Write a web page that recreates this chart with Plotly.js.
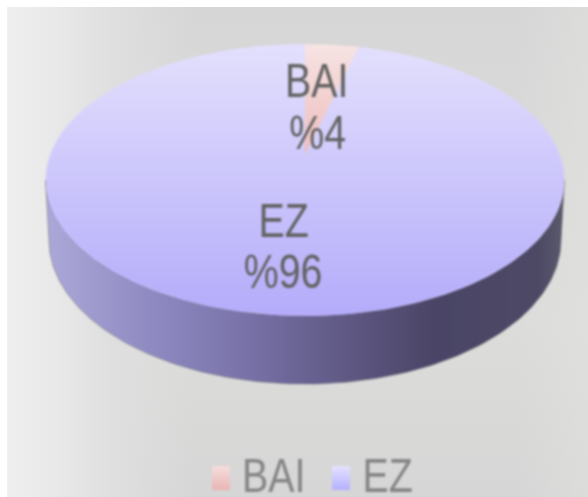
<!DOCTYPE html>
<html><head><meta charset="utf-8">
<script src="https://cdn.plot.ly/plotly-3.0.1.min.js"></script>
<style>
html,body{margin:0;padding:0;background:#fff;overflow:hidden}
#bg{position:absolute;left:7px;top:7px;width:581px;height:490px;
background:linear-gradient(90deg,#efefef 0,#e9e9e9 8%,#dfdfdf 18%,rgba(216,216,216,0) 32%,rgba(216,216,216,0) 88%,rgba(226,226,224,.5) 100%),linear-gradient(180deg,#d6d6d6 0,#d8d8d8 15%,#dcdcda 65%,#d6d6d6 100%)}
#chart{position:absolute;left:0;top:0;width:588px;height:497px;filter:blur(0.8px)}
</style></head><body><div id="bg"></div><div id="chart"></div>
<script>
const categories = ["BAI", "EZ"];
const values = [4, 96];
const labelPrefix = "%";
const topColors = [["#f7e4e4", "#eebcbc"], ["#e3e0fd", "#b4acfa"]];
const swatchColors = [["#f5dede", "#ebb4b4"], ["#e6e2ff", "#b4b0ff"]];
const wallColors = [[0, "#aca8d8"], [0.2, "#8f8bc2"], [0.4, "#7670a6"], [0.6, "#5c5680"], [0.75, "#4a4566"], [0.95, "#4d4965"], [1, "#5a5a6c"]];
const labelPos = [[316, 80, 317, 132], [283, 220, 283, 271]];
const legendPos = [[212, 273], [332, 387]];

// Perspective projection of the tilted disc, in pixel-valued axis units
const cx = 305, cy = 155, a = 131.4, b = 255, k = 0.1838;
const lowCy = 240, lowRx = 256, lowRy = 144;
function pt(r, deg) {
  const t = deg * Math.PI / 180, X = r * Math.sin(t), Y = r * Math.cos(t), w = 1 + k * Y;
  return [cx + b * X / w, cy - a * Y / w];
}
function arc(d0, d1, n) {
  const xs = [], ys = [];
  for (let i = 0; i <= n; i++) {
    const p = pt(1, d0 + (d1 - d0) * i / n);
    xs.push(p[0]); ys.push(p[1]);
  }
  return [xs, ys];
}
function lowerArc(n) {
  const xs = [], ys = [];
  for (let i = 0; i <= n; i++) {
    const t = (270 - 180 * i / n) * Math.PI / 180;
    xs.push(cx + lowRx * Math.sin(t)); ys.push(lowCy - lowRy * Math.cos(t));
  }
  return [xs, ys];
}
const total = values.reduce((s, v) => s + v, 0);
const traces = [];
const axisBase = {xaxis: "x", yaxis: "y", hoverinfo: "skip", showlegend: false};

// Side wall
const edge = Math.acos(-k) * 180 / Math.PI;
const up = arc(edge, 360 - edge, 160), low = lowerArc(160);
traces.push({...axisBase, type: "scatter", mode: "lines",
  x: up[0].concat(low[0], [up[0][0]]), y: up[1].concat(low[1], [up[1][0]]), fill: "toself",
  line: {color: "rgba(95,95,105,0.5)", width: 1},
  fillgradient: {type: "horizontal", colorscale: wallColors}});

// Top slices
let start = 0;
values.forEach((v, i) => {
  const sweep = v / total * 360;
  const rim = arc(start, start + sweep, 240);
  const c = pt(0, 0);
  traces.push({...axisBase, type: "scatter", mode: "lines", name: categories[i],
    x: [c[0]].concat(rim[0], [c[0]]), y: [c[1]].concat(rim[1], [c[1]]), fill: "toself",
    line: {width: 0, color: "rgba(0,0,0,0)"},
    fillgradient: {type: "vertical", colorscale: [[0, topColors[i][1]], [1, topColors[i][0]]]}});
  start += sweep;
});

// Legend swatches
categories.forEach((c, i) => {
  const x0 = legendPos[i][0], x1 = x0 + 18, y0 = 466, y1 = 490;
  traces.push({...axisBase, type: "scatter", mode: "lines", x: [x0, x1, x1, x0, x0], y: [y0, y0, y1, y1, y0],
    fill: "toself", line: {width: 0, color: "rgba(0,0,0,0)"},
    fillgradient: {type: "vertical", colorscale: [[0, swatchColors[i][1]], [1, swatchColors[i][0]]]}});
});

const font = {family: "'Liberation Sans',Arial,sans-serif", size: 48, color: "#626262"};
const annotations = [];
categories.forEach((c, i) => {
  const p = labelPos[i];
  annotations.push({x: p[0], y: p[1], text: c, showarrow: false, font, xanchor: "center", yanchor: "middle"});
  annotations.push({x: p[2], y: p[3], text: labelPrefix + values[i], showarrow: false, font, xanchor: "center", yanchor: "middle"});
  annotations.push({x: legendPos[i][1], y: 475, text: c, showarrow: false, font: {...font, color: "#858585"}, xanchor: "center", yanchor: "middle"});
});

const hidden = {visible: false, fixedrange: true};
Plotly.newPlot("chart", traces, {
  width: 588, height: 497, margin: {l: 0, r: 0, t: 0, b: 0},
  paper_bgcolor: "rgba(0,0,0,0)", plot_bgcolor: "rgba(0,0,0,0)",
  xaxis: {...hidden, range: [0, 588]}, yaxis: {...hidden, range: [497, 0]},
  showlegend: false, annotations
}, {displayModeBar: false, staticPlot: true}).then(() => {
  // The reference's lettering is narrower than Liberation Sans at this height
  document.querySelectorAll("#chart .annotation-text").forEach(t => {
    t.setAttribute("textLength", (t.getComputedTextLength() * 0.82).toFixed(1));
    t.setAttribute("lengthAdjust", "spacingAndGlyphs");
  });
});
</script></body></html>
